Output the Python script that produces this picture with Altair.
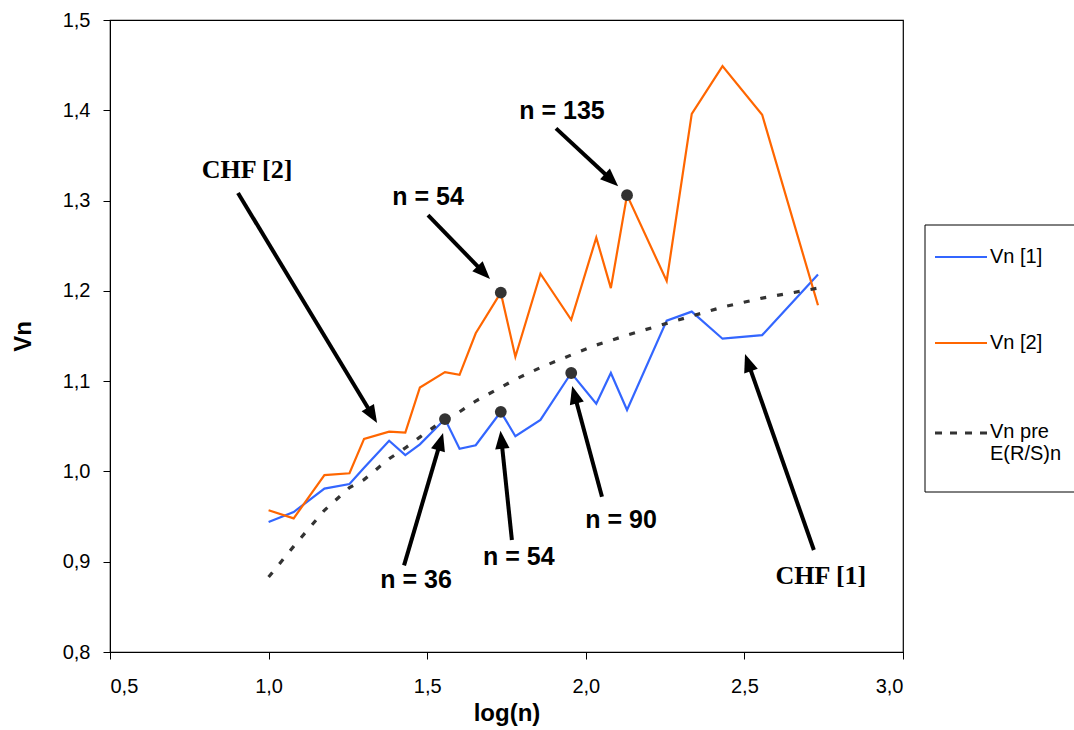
import math
import altair as alt
import pandas as pd

# ---------------- data ----------------
n_vals = [10, 12, 15, 18, 20, 24, 27, 30, 36, 40, 45, 54, 60, 72, 90, 108, 120, 135, 180, 216, 270, 360, 540]
log_n = [1.000, 1.079, 1.176, 1.255, 1.301, 1.380, 1.431, 1.477, 1.556, 1.602, 1.653, 1.732, 1.778,
         1.857, 1.954, 2.033, 2.079, 2.130, 2.255, 2.334, 2.431, 2.556, 2.732]
vn1 = [0.944, 0.955, 0.981, 0.986, 1.004, 1.034, 1.018, 1.030, 1.058, 1.025, 1.029, 1.066, 1.039,
       1.057, 1.109, 1.075, 1.109, 1.068, 1.167, 1.177, 1.147, 1.151, 1.218]
vn2 = [0.957, 0.948, 0.996, 0.998, 1.036, 1.044, 1.043, 1.093, 1.110, 1.107, 1.153, 1.198, 1.127,
       1.219, 1.168, 1.259, 1.203, 1.306, 1.211, 1.396, 1.449, 1.395, 1.184]
vn_exp = [0.883, 0.917, 0.957, 0.982, 0.991, 1.014, 1.026, 1.038, 1.058, 1.066, 1.078, 1.093, 1.102,
          1.115, 1.129, 1.140, 1.145, 1.151, 1.164, 1.172, 1.182, 1.192, 1.203]

# highlighted points: (series, n)
marked = [("Vn [1]", 36), ("Vn [1]", 54), ("Vn [1]", 90), ("Vn [2]", 54), ("Vn [2]", 135)]

# annotations: label, text x/y, arrow start x/y, arrow tip x/y
ann_label = ["CHF [2]", "n = 54", "n = 135", "n = 36", "n = 54", "n = 90", "CHF [1]"]
ann_font = ["serif", "sans", "sans", "sans", "sans", "sans", "serif"]
ann_tx = [0.932, 1.5025, 1.925, 1.465, 1.789, 2.111, 2.741]
ann_ty = [1.334, 1.304, 1.399, 0.880, 0.905, 0.946, 0.884]
arr_x0 = [0.9035, 1.5025, 1.906, 1.427, 1.767, 2.051, 2.719]
arr_y0 = [1.3084, 1.284, 1.380, 0.896, 0.924, 0.972, 0.913]
arr_x1 = [1.342, 1.698, 2.102, 1.550, 1.731, 1.957, 2.502]
arr_y1 = [1.0536, 1.213, 1.316, 1.0425, 1.045, 1.0946, 1.130]

x_ticks = [0.5, 1.0, 1.5, 2.0, 2.5, 3.0]
y_ticks = [0.8, 0.9, 1.0, 1.1, 1.2, 1.3, 1.4, 1.5]

# ---------------- layout constants ----------------
W, H = 793, 632
XD, YD = [0.5, 3.0], [0.8, 1.5]
PX_X = W / (XD[1] - XD[0])
PX_Y = H / (YD[1] - YD[0])
HEAD = 9.0  # half length of arrow head in px

BLUE, ORANGE, DARK = "#3366FF", "#FF6600", "#333333"
SANS, SERIF = "Liberation Sans", "Liberation Serif"

# ---------------- tables ----------------
series_df = pd.DataFrame({"log_n": log_n, "n": n_vals, "v1": vn1, "v2": vn2, "ve": vn_exp})

dots = []
for s, nn in marked:
    i = n_vals.index(nn)
    dots.append({"x": log_n[i], "y": (vn1 if s == "Vn [1]" else vn2)[i]})
dots_df = pd.DataFrame(dots)

rows = []
for i in range(len(ann_label)):
    dxp = (arr_x1[i] - arr_x0[i]) * PX_X
    dyp = -(arr_y1[i] - arr_y0[i]) * PX_Y
    L = math.hypot(dxp, dyp)
    ux, uy = dxp / L, dyp / L
    ang = math.degrees(math.atan2(ux, -uy)) % 360
    cx = arr_x1[i] - HEAD * ux / PX_X
    cy = arr_y1[i] + HEAD * uy / PX_Y
    rows.append({"label": ann_label[i], "font": ann_font[i], "tx": ann_tx[i], "ty": ann_ty[i],
                 "x0": arr_x0[i], "y0": arr_y0[i], "cx": cx, "cy": cy, "ang": ang})
ann_df = pd.DataFrame(rows)

lab_expr = "replace(format(datum.value, '.1f'), '.', ',')"
xs = alt.Scale(domain=XD, nice=False, zero=False)
ys = alt.Scale(domain=YD, nice=False, zero=False)

x_axis = alt.Axis(values=x_ticks, labelExpr=lab_expr, title="log(n)", grid=False,
                  labelFont=SANS, labelFontSize=20, labelColor="black", labelPadding=17,
                  titleFont=SANS, titleFontSize=24, titleFontWeight="bold", titleColor="black",
                  titlePadding=5, tickSize=7, tickColor="black", domainColor="black")
y_axis = alt.Axis(values=y_ticks, labelExpr=lab_expr, title="Vn", grid=False,
                  labelFont=SANS, labelFontSize=20, labelColor="black", labelPadding=13,
                  titleFont=SANS, titleFontSize=24, titleFontWeight="bold", titleColor="black",
                  titlePadding=27, tickSize=7, tickColor="black", domainColor="black")

base = alt.Chart(series_df)
blue = base.mark_line(color=BLUE, strokeWidth=2.2).encode(
    x=alt.X("log_n:Q", scale=xs, axis=x_axis), y=alt.Y("v1:Q", scale=ys, axis=y_axis))
orange = base.mark_line(color=ORANGE, strokeWidth=2.2).encode(
    x=alt.X("log_n:Q", scale=xs), y=alt.Y("v2:Q", scale=ys))
expected = base.mark_line(color=DARK, strokeWidth=3.2, strokeDash=[6, 11]).encode(
    x=alt.X("log_n:Q", scale=xs), y=alt.Y("ve:Q", scale=ys))

dot_layer = alt.Chart(dots_df).mark_circle(size=140, color=DARK, opacity=1).encode(
    x=alt.X("x:Q", scale=xs), y=alt.Y("y:Q", scale=ys))

arrows = alt.Chart(ann_df).mark_rule(color="black", strokeWidth=4).encode(
    x=alt.X("x0:Q", scale=xs), y=alt.Y("y0:Q", scale=ys), x2="cx:Q", y2="cy:Q")
heads = alt.Chart(ann_df).mark_point(shape="M0,-1L0.8,1L-0.8,1Z", filled=True, size=(2 * HEAD) ** 2,
                                     color="black", opacity=1, strokeWidth=0).encode(
    x=alt.X("cx:Q", scale=xs), y=alt.Y("cy:Q", scale=ys), angle=alt.Angle("ang:Q", scale=None))

sans_txt = alt.Chart(ann_df).transform_filter("datum.font == 'sans'").mark_text(
    font=SANS, fontSize=25, fontWeight="bold", color="black", align="center", baseline="middle").encode(
    x=alt.X("tx:Q", scale=xs), y=alt.Y("ty:Q", scale=ys), text="label:N")
serif_txt = alt.Chart(ann_df).transform_filter("datum.font == 'serif'").mark_text(
    font=SERIF, fontSize=26, fontWeight="bold", color="black", align="center", baseline="middle").encode(
    x=alt.X("tx:Q", scale=xs), y=alt.Y("ty:Q", scale=ys), text="label:N")

# ---------------- legend (drawn by hand, in pixels beside the plot) ----------------
one = pd.DataFrame({"k": [0]})
leg_box = alt.Chart(one).mark_rect(fill="white", stroke="black", strokeWidth=1).encode(
    x=alt.value(815), x2=alt.value(1000), y=alt.value(205), y2=alt.value(472))
leg_l1 = alt.Chart(one).mark_rule(color=BLUE, strokeWidth=2.2).encode(
    x=alt.value(825), x2=alt.value(877), y=alt.value(237))
leg_l2 = alt.Chart(one).mark_rule(color=ORANGE, strokeWidth=2.2).encode(
    x=alt.value(825), x2=alt.value(877), y=alt.value(323))
leg_l3 = alt.Chart(one).mark_rule(color=DARK, strokeWidth=3.2, strokeDash=[7, 8]).encode(
    x=alt.value(825), x2=alt.value(877), y=alt.value(413))
leg_labels = ["Vn [1]", "Vn [2]", "Vn pre", "E(R/S)n"]
leg_y = [237, 323, 412, 434]
leg_txt = [alt.Chart(one).mark_text(font=SANS, fontSize=20, color="black", align="left",
                                     baseline="middle", text=t).encode(x=alt.value(880), y=alt.value(yy))
           for t, yy in zip(leg_labels, leg_y)]

chart = alt.layer(
    blue, orange, expected, dot_layer, arrows, heads, sans_txt, serif_txt,
    leg_box, leg_l1, leg_l2, leg_l3, *leg_txt
).properties(
    width=W, height=H,
    padding={"left": 110, "top": 20, "right": 171, "bottom": 78},
    autosize=alt.AutoSizeParams(type="none"),
    background="white",
).configure_view(stroke="black", strokeWidth=1.2)

chart.save("out.html", embed_options={"renderer": "svg", "actions": False})
